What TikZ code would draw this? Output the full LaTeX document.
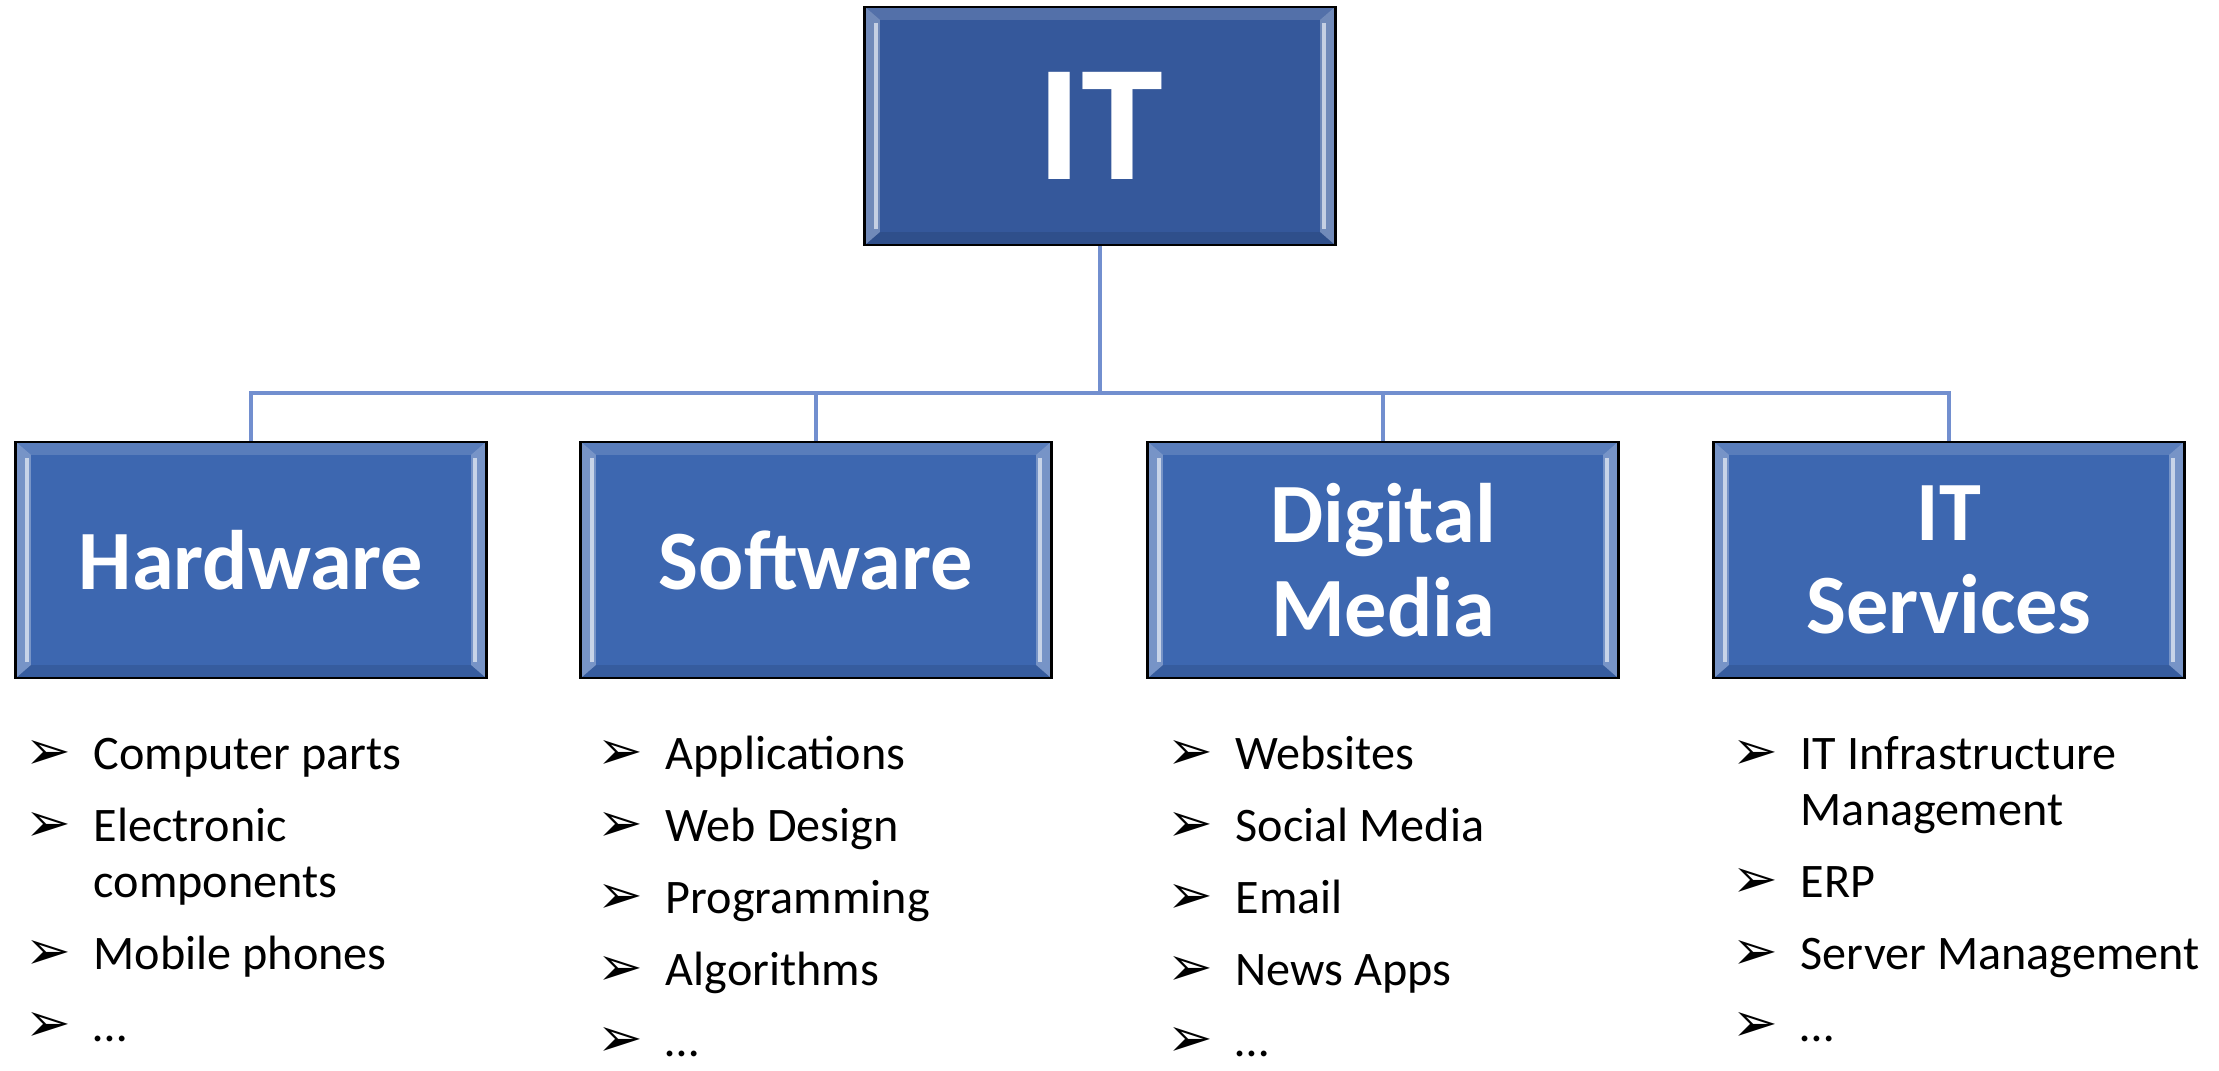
\documentclass[tikz,border=0pt]{standalone}
\usepackage{fontspec}
\setmainfont{Carlito}
\newfontfamily\dingfont{DejaVu Sans}
\usepackage{xcolor}

\definecolor{topblue}{RGB}{53,88,155}
\definecolor{catblue}{RGB}{61,103,176}
\definecolor{linkblue}{RGB}{114,143,207}

\newcommand{\bul}{{\dingfont\fontsize{15.5}{15.5}\selectfont ➢}}

\begin{document}
\begin{tikzpicture}[
  x=0.01cm, y=-0.01cm,
  bevel/.style={path picture={
    \coordinate (pnw) at (path picture bounding box.north west);
    \coordinate (pne) at (path picture bounding box.north east);
    \coordinate (psw) at (path picture bounding box.south west);
    \coordinate (pse) at (path picture bounding box.south east);
    \fill[white, opacity=.3] (pnw) -- ([shift={(.15cm,-.13cm)}]pnw) -- ([shift={(.15cm,.13cm)}]psw) -- (psw) -- cycle;
    \fill[white, opacity=.3] (pne) -- ([shift={(-.15cm,-.13cm)}]pne) -- ([shift={(-.15cm,.13cm)}]pse) -- (pse) -- cycle;
    \fill[white, opacity=.15] (pnw) -- (pne) -- ([shift={(-.15cm,-.13cm)}]pne) -- ([shift={(.15cm,-.13cm)}]pnw) -- cycle;
    \fill[black, opacity=.1] (psw) -- (pse) -- ([shift={(-.15cm,.13cm)}]pse) -- ([shift={(.15cm,.13cm)}]psw) -- cycle;
    \draw[white, opacity=.6, line width=1.2pt] ([shift={(.11cm,-.16cm)}]pnw) -- ([shift={(.11cm,.16cm)}]psw);
    \draw[white, opacity=.6, line width=1.2pt] ([shift={(-.11cm,-.16cm)}]pne) -- ([shift={(-.11cm,.16cm)}]pse);
  }},
  topbox/.style={draw=black, line width=0.8pt, fill=topblue, bevel, minimum width=4.7cm, minimum height=2.38cm, text=white, font=\bfseries\fontsize{47}{50}\selectfont},
  catbox/.style={draw=black, line width=0.8pt, fill=catblue, bevel, minimum width=4.7cm, minimum height=2.36cm, align=center, text=white, font=\bfseries\fontsize{24}{26.7}\selectfont},
  itemlist/.style={anchor=base west, inner sep=0pt, font=\fontsize{13.7}{15.9}\selectfont},
  link/.style={draw=linkblue, line width=1.1pt}
]
\useasboundingbox (0,0) rectangle (2219,1071);

\node[topbox] (it) at (1100,126) {IT};

\node[catbox] (hw) at (251,560) {Hardware};
\node[catbox] (sw) at (816,560) {Software};
\node[catbox] (dm) at (1383,560) {Digital\\Media};
\node[catbox] (its) at (1949,560) {IT\\Services};

\coordinate (bus) at (1100,393);
\foreach \c in {hw,sw,dm,its}
  \draw[link] (it.south) -- (bus) -| (\c.north);

\node[itemlist] (hwlist) at (25,770) {\begin{tabular}[t]{@{}p{0.68cm}@{}l@{}}
\bul & Computer parts\\[4.5pt]
\bul & Electronic\\
     & components\\[4.5pt]
\bul & Mobile phones\\[4.5pt]
\bul & …
\end{tabular}};

\node[itemlist] (swlist) at (597,770) {\begin{tabular}[t]{@{}p{0.68cm}@{}l@{}}
\bul & Applications\\[4.5pt]
\bul & Web Design\\[4.5pt]
\bul & Programming\\[4.5pt]
\bul & Algorithms\\[4.5pt]
\bul & …
\end{tabular}};

\node[itemlist] (dmlist) at (1167,770) {\begin{tabular}[t]{@{}p{0.68cm}@{}l@{}}
\bul & Websites\\[4.5pt]
\bul & Social Media\\[4.5pt]
\bul & Email\\[4.5pt]
\bul & News Apps\\[4.5pt]
\bul & …
\end{tabular}};

\node[itemlist] (itslist) at (1732,770) {\begin{tabular}[t]{@{}p{0.68cm}@{}l@{}}
\bul & IT Infrastructure\\
     & Management\\[4.5pt]
\bul & ERP\\[4.5pt]
\bul & Server Management\\[4.5pt]
\bul & …
\end{tabular}};

\end{tikzpicture}
\end{document}
